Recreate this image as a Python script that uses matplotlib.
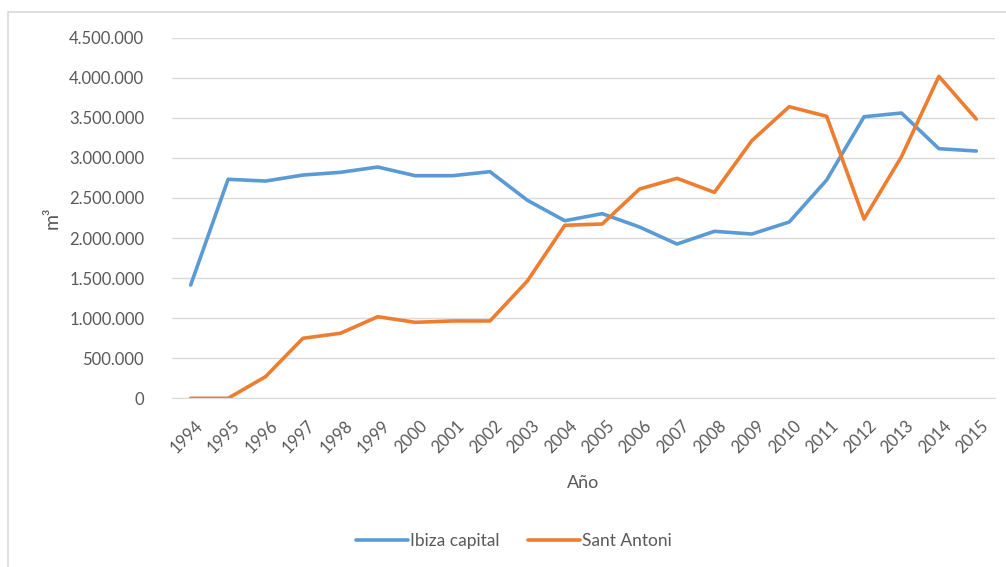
import matplotlib
matplotlib.use('Agg')
import matplotlib.pyplot as plt
import matplotlib.transforms as mtransforms
from matplotlib.patches import Rectangle
from matplotlib.ticker import FuncFormatter

years = [str(y) for y in range(1994, 2016)]
ibiza = [1414000, 2733000, 2711000, 2786000, 2820000, 2886000, 2778000, 2778000,
         2828000, 2471000, 2216000, 2304000, 2137000, 1925000, 2084000, 2050000,
         2200000, 2724000, 3514000, 3560000, 3115000, 3086000]
sant_antoni = [0, 0, 270000, 749000, 811000, 1018000, 948000, 965000,
               965000, 1464000, 2159000, 2175000, 2612000, 2745000, 2570000, 3215000,
               3639000, 3519000, 2237000, 3015000, 4018000, 3485000]

plt.rcParams['font.family'] = ['Lato', 'DejaVu Sans']
text_col = '#595959'
grid_col = '#d9d9d9'

fig = plt.figure(figsize=(10.06, 5.67), dpi=100)
# chart frame (Excel style), only left and top edge visible in the crop
fig.patches.append(Rectangle((8 / 1006, -0.5), 1.5, 0.5 + 1 - 12 / 567,
                             transform=fig.transFigure, fill=False,
                             edgecolor=grid_col, linewidth=1.2))

ax = fig.add_axes([172 / 1006, 1 - 398.3 / 567, (995 - 172) / 1006, (398.3 - 37.7) / 567])
x = list(range(len(years)))
ax.plot(x, ibiza, color='#5B9BD5', linewidth=2.6, label='Ibiza capital', solid_capstyle='round')
ax.plot(x, sant_antoni, color='#ED7D31', linewidth=2.6, label='Sant Antoni', solid_capstyle='round')

ax.set_xlim(-0.5, len(years) - 0.5)
ax.set_ylim(0, 4500000)
ax.set_yticks(range(0, 4500001, 500000))
ax.yaxis.set_major_formatter(FuncFormatter(lambda v, p: f'{int(v):,}'.replace(',', '.')))
ax.grid(axis='y', color=grid_col, linewidth=1)
ax.set_axisbelow(True)
for s in ['top', 'right', 'left']:
  ax.spines[s].set_visible(False)
ax.spines['bottom'].set_color(grid_col)
ax.tick_params(axis='both', length=0, colors=text_col, labelsize=12)
ax.tick_params(axis='y', pad=20)

ax.set_xticks(x)
ax.set_xticklabels(years, rotation=45, ha='right', rotation_mode='anchor')
offset = mtransforms.ScaledTranslation(4 / 100, -14 / 100, fig.dpi_scale_trans)
for lbl in ax.get_xticklabels():
  lbl.set_transform(lbl.get_transform() + offset)

ax.set_xlabel('Año', fontsize=13, color=text_col, labelpad=14)
ax.set_ylabel('m³', fontsize=14, color=text_col, labelpad=6)

fig.legend(loc='center', bbox_to_anchor=(514 / 1006, 1 - 541 / 567), ncol=2, frameon=False,
           fontsize=12.5, labelcolor=text_col, handlelength=3.0, handletextpad=0.15, columnspacing=1.6)

fig.savefig('out.png', dpi=100)
